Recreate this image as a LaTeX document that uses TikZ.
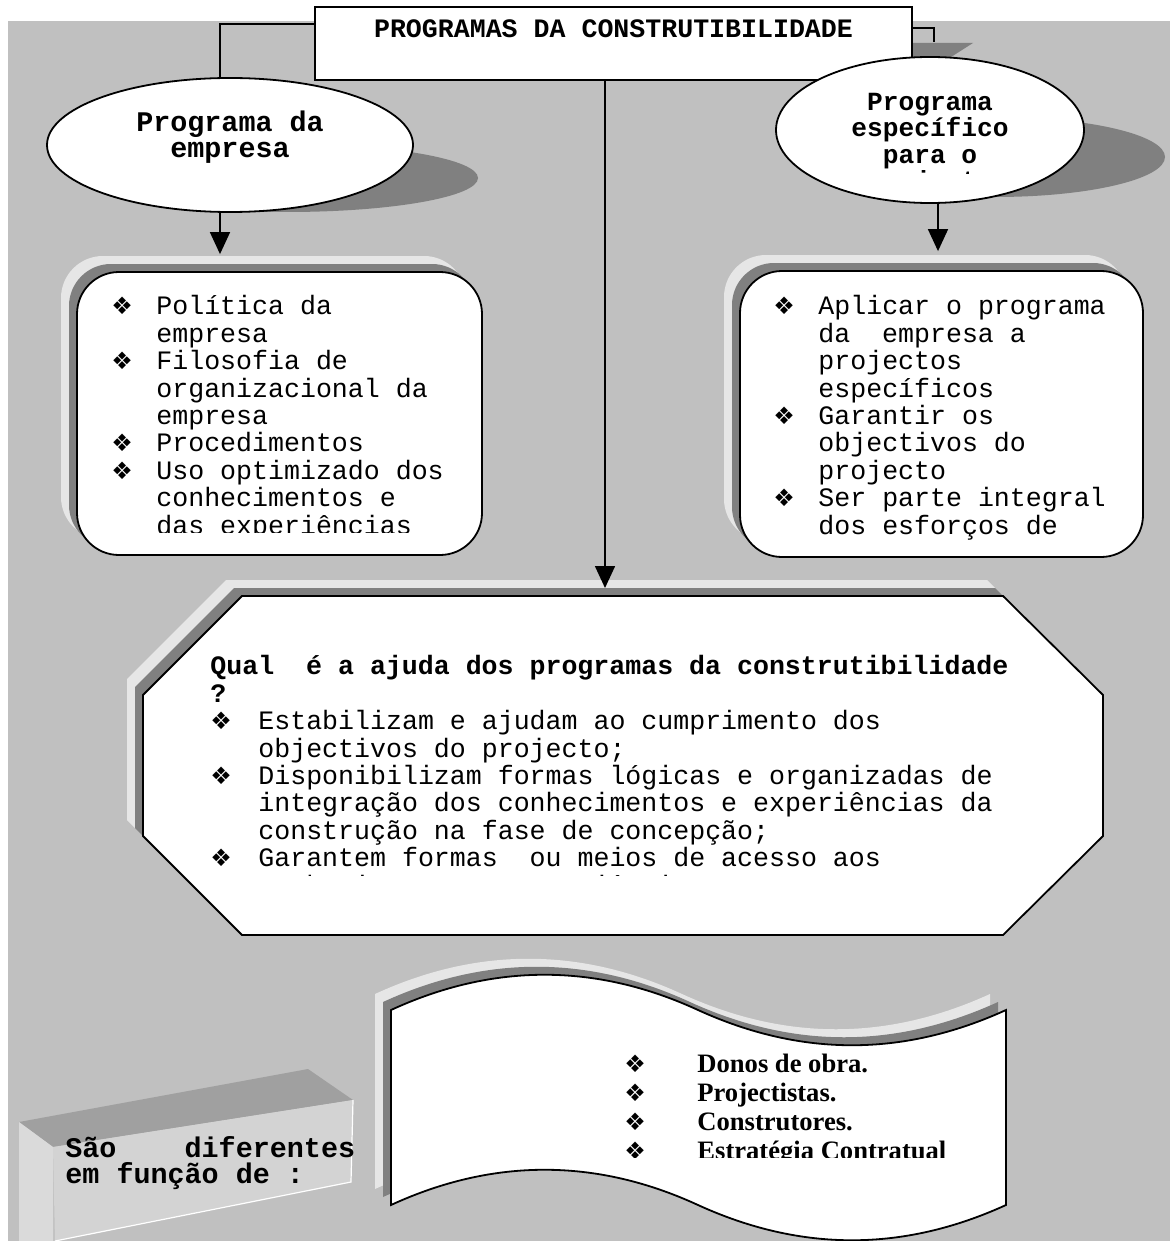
\documentclass[tikz,border=0pt]{standalone}
\usepackage{fontspec}
\setmainfont{Liberation Serif}
\setmonofont{Liberation Mono}
\newfontfamily\bulletfont{DejaVu Sans}
\usetikzlibrary{arrows.meta,shapes.geometric,shadows}

\definecolor{bggray}{HTML}{C0C0C0}
\definecolor{darkband}{HTML}{808080}
\definecolor{lightband}{HTML}{E6E6E6}
\definecolor{facetop}{HTML}{A0A0A0}
\definecolor{facefront}{HTML}{D3D3D3}
\definecolor{faceside}{HTML}{DADADA}

\newcommand{\bul}{{\bulletfont\fontsize{12}{12}\selectfont ❖}}
\newcommand{\itm}[1][22.5pt]{\makebox[#1][l]{\bul}}
\newcommand{\cnt}[1][22.5pt]{\hspace*{#1}}

\begin{document}
\begin{tikzpicture}[x=0.5pt,y=-0.5pt,
            bands/.style={copy shadow={shadow xshift=-8pt,shadow yshift=8pt,fill=lightband,draw=none},
                    copy shadow={shadow xshift=-4pt,shadow yshift=4pt,fill=darkband,draw=none}},
            oval/.style={ellipse,draw,fill=white,line width=0.9pt,inner sep=0pt},
            listbox/.style={rectangle,rounded corners=21pt,draw,fill=white,line width=0.9pt,
                    inner sep=0pt,bands},
            boldtxt/.style={font=\ttfamily\bfseries\fontsize{14.2}{13.3}\selectfont,
                    inner sep=0pt,align=center},
            listtxt/.style={font=\ttfamily\fontsize{13.3}{13.7}\selectfont,
                    inner sep=0pt,align=left,anchor=base west},
            conn/.style={line width=0.8pt},
            arr/.style={line width=0.8pt,-{Triangle[length=11pt,width=10pt]}},
        ]
        \useasboundingbox (0,0) rectangle (1170,1241);
        \fill[bggray] (8,21) rectangle (1170,1241);

        % Title
        \fill[darkband] (912,43) -- (973,43) -- (915,80) -- (912,80) -- cycle;
        \node[draw,fill=white,line width=0.9pt,inner sep=0pt,anchor=north,
            minimum width=298.5pt,text height=15.5pt,text depth=21pt,
            font=\ttfamily\bfseries\fontsize{13.3}{14}\selectfont]
            (title) at (613.5,6) {PROGRAMAS DA CONSTRUTIBILIDADE};

        % Programa da empresa (base = last line)
        \fill[darkband] (287,178) ellipse [x radius=191,y radius=34];
        \node[oval,minimum width=183pt,minimum height=67pt] (empresa) at (230,145) {};
        \node[boldtxt,anchor=base] (empresatxt) at (230,158) {Programa da\\empresa};

        % Programa especifico
        \fill[darkband] (995,157) ellipse [x radius=170,y radius=40];
        \node[oval,minimum width=154pt,minimum height=73pt] (especifico) at (930,130) {};
        \begin{scope}
            \clip (776,57) rectangle (1084,174);
            \node[boldtxt,font=\ttfamily\bfseries\fontsize{13.1}{13.3}\selectfont,anchor=base]
                (especificotxt) at (930,190) {Programa\\específico\\para o\\projecto};
        \end{scope}

        % connectors from the title
        \coordinate (lx) at (220,0);
        \coordinate (rx) at (938,0);
        \coordinate (rend) at (934,42);
        \draw[conn] ([yshift=-9pt]title.north west) -| (lx |- empresa.north);
        \draw[conn] ([yshift=-11pt]title.north east) -| (rend);

        % list boxes
        \node[listbox,minimum width=202.5pt,minimum height=141.5pt] (empresabox) at (279.5,413.5) {};
        \node[listbox,minimum width=201.5pt,minimum height=143pt] (projbox) at (941.5,414) {};
        \coordinate (empresatop) at ([yshift=8.5pt]empresabox.north);
        \coordinate (projtop) at ([yshift=9.5pt]projbox.north);
        \draw[arr] (lx |- empresa.south) -- (lx |- empresatop);
        \draw[arr] (rx |- especifico.south) -- (rx |- projtop);

        \begin{scope}
            \clip (78,272) rectangle (482,532);
            \node[listtxt] (empresalist) at (111,534) {\itm Política da\\\cnt empresa\\
                \itm Filosofia de\\\cnt organizacional da\\\cnt empresa\\
                \itm Procedimentos\\\itm Uso optimizado dos\\\cnt conhecimentos e\\
                \cnt das experiências};
        \end{scope}
        \begin{scope}
            \clip (740,271) rectangle (1143,543);
            \node[listtxt] (projlist) at (773,534) {\itm Aplicar o programa\\
                \cnt da\hspace{1.2em}empresa a\\\cnt projectos\\\cnt específicos\\
                \itm Garantir os\\\cnt objectivos do\\\cnt projecto\\
                \itm Ser parte integral\\\cnt dos esforços de};
        \end{scope}

        % Octagon
        \filldraw[fill=white,line width=0.9pt,bands] (242,596) -- (1003,596) -- (1103,695)
            -- (1103,836) -- (1003,935) -- (242,935) -- (143,836) -- (143,695) -- cycle;
        \coordinate (qual) at (605,588);
        \draw[arr] (qual |- title.south) -- (qual);
        \begin{scope}
            \clip (143,596) rectangle (1103,875);
            \node[listtxt] (ajuda) at (210,894) {%
                \textbf{Qual\hspace{1.2em}é a ajuda dos programas da construtibilidade}\\
                \textbf{?}\\
                \itm[24pt]Estabilizam e ajudam ao cumprimento dos\\
                \cnt[24pt]objectivos do projecto;\\
                \itm[24pt]Disponibilizam formas lógicas e organizadas de\\
                \cnt[24pt]integração dos conhecimentos e experiências da\\
                \cnt[24pt]construção na fase de concepção;\\
                \itm[24pt]Garantem formas\hspace{1.2em}ou meios de acesso aos\\
                \cnt[24pt]conhecimentos e experiências};
        \end{scope}

        % Wave
        \filldraw[fill=white,line width=0.9pt,bands] (391,1010)
            .. controls (493,963) and (596,963) .. (698,1010)
            .. controls (801,1057) and (903,1057) .. (1006,1010) -- (1006,1205)
            .. controls (903,1252) and (801,1252) .. (698,1205)
            .. controls (596,1158) and (493,1158) .. (391,1205) -- cycle;
        \begin{scope}
            \clip (391,980) rectangle (1006,1157);
            \node[listtxt,font=\rmfamily\bfseries\fontsize{13.3}{14.35}\selectfont]
                (agentes) at (624,1159) {\itm[36.5pt]Donos de obra.\\
                \itm[36.5pt]Projectistas.\\\itm[36.5pt]Construtores.\\
                \itm[36.5pt]Estratégia Contratual};
        \end{scope}

        % Sao diferentes box
        \fill[facetop] (19,1122) -- (308,1069) -- (353,1100) -- (53,1147) -- cycle;
        \fill[faceside] (19,1122) -- (53,1147) -- (53,1241) -- (19,1241) -- cycle;
        \fill[facefront] (53,1147) -- (353,1100) -- (351,1182) -- (55,1241) -- cycle;
        \draw[white,line width=0.6pt] (55,1241) -- (351,1182) -- (353,1100);
        \node[boldtxt,font=\ttfamily\bfseries\fontsize{14.2}{13}\selectfont,
            anchor=base west,align=left] (funcao) at (65,1183)
            {São\hspace{2.4em}diferentes\\em função de :};

    \end{tikzpicture}
\end{document}
